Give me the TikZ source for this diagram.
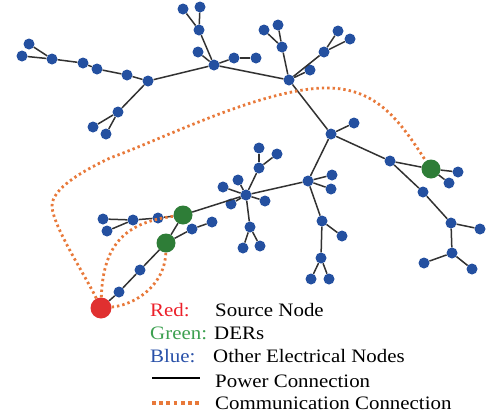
\documentclass[tikz,border=0pt]{standalone}
\usepackage{fontspec}
\usepackage{graphicx}
\setmainfont{Liberation Serif}
\definecolor{busblue}{RGB}{36,80,160}
\definecolor{dergreen}{RGB}{46,125,55}
\definecolor{srcred}{RGB}{224,48,48}
\definecolor{commorange}{RGB}{232,121,58}
\definecolor{linegray}{RGB}{50,50,50}
\definecolor{txtred}{RGB}{236,32,42}
\definecolor{txtgreen}{RGB}{60,160,80}
\definecolor{txtblue}{RGB}{40,80,168}
\newcommand\legstretch[1]{\scalebox{1.1}[1.0]{#1}}
\tikzset{
  bus/.style={circle,fill=busblue,inner sep=0pt,minimum size=11pt},
  der/.style={circle,fill=dergreen,inner sep=0pt,minimum size=19pt},
  src/.style={circle,fill=srcred,inner sep=0pt,minimum size=21pt},
  power/.style={draw=linegray,line width=1.5pt},
  comm/.style={draw=commorange,line width=2.8pt,dash pattern=on 2.4pt off 3pt},
  commkey/.style={draw=commorange,line width=3.5pt,dash pattern=on 3.8pt off 3.4pt},
  legtext/.style={anchor=base west,inner sep=0pt,font=\fontsize{19}{23}\selectfont}
}
\begin{document}
\begin{tikzpicture}[x=1pt,y=-1pt]
\useasboundingbox (0,0) rectangle (488,418);

% upper-left feeder
\node[bus] (a1) at (29,44) {};
\node[bus] (a2) at (22,56) {};
\node[bus] (a3) at (52,59) {};
\node[bus] (a4) at (83,63) {};
\node[bus] (a5) at (97,69) {};
\node[bus] (a6) at (127,75) {};
\node[bus] (g1) at (148,81) {};
\node[bus] (a7) at (118,112) {};
\node[bus] (a8) at (93,127) {};
\node[bus] (a9) at (106,134) {};
% top hubs
\node[bus] (k) at (214,65) {};
\node[bus] (b1) at (198,52) {};
\node[bus] (b2) at (199,30) {};
\node[bus] (b3) at (183,9) {};
\node[bus] (b4) at (200,7) {};
\node[bus] (b5) at (234,58) {};
\node[bus] (b6) at (256,58) {};
\node[bus] (r) at (289,80) {};
\node[bus] (c1) at (282,47) {};
\node[bus] (c2) at (264,30) {};
\node[bus] (c3) at (278,25) {};
\node[bus] (c4) at (310,70) {};
\node[bus] (c5) at (324,52) {};
\node[bus] (c6) at (338,31) {};
\node[bus] (c7) at (350,39) {};
% right feeder
\node[bus] (z) at (331,134) {};
\node[bus] (d1) at (354,123) {};
\node[bus] (d2) at (390,161) {};
\node[der] (dg3) at (431,169) {};
\node[bus] (d3) at (458,172) {};
\node[bus] (d4) at (449,183) {};
\node[bus] (d5) at (423,192) {};
\node[bus] (d6) at (451,223) {};
\node[bus] (d7) at (480,229) {};
\node[bus] (d8) at (452,253) {};
\node[bus] (d9) at (424,263) {};
\node[bus] (d10) at (472,269) {};
% middle feeder
\node[bus] (h5) at (308,181) {};
\node[bus] (e1) at (332,175) {};
\node[bus] (e2) at (331,189) {};
\node[bus] (e3) at (322,221) {};
\node[bus] (e4) at (342,236) {};
\node[bus] (e5) at (321,258) {};
\node[bus] (e6) at (311,279) {};
\node[bus] (e7) at (329,279) {};
\node[bus] (h6) at (246,195) {};
\node[bus] (f1) at (223,187) {};
\node[bus] (f2) at (238,180) {};
\node[bus] (f3) at (231,204) {};
\node[bus] (f4) at (265,201) {};
\node[bus] (f5) at (259,168) {};
\node[bus] (f6) at (259,148) {};
\node[bus] (f7) at (277,154) {};
\node[bus] (f8) at (250,227) {};
\node[bus] (f9) at (260,246) {};
\node[bus] (f10) at (243,248) {};
% lower-left feeder with DERs and source
\node[der] (dg1) at (183,215) {};
\node[der] (dg2) at (166,243) {};
\node[bus] (l1) at (158,218) {};
\node[bus] (l2) at (133,220) {};
\node[bus] (l3) at (103,219) {};
\node[bus] (l4) at (107,231) {};
\node[bus] (l5) at (192,229) {};
\node[bus] (l6) at (212,222) {};
\node[bus] (l7) at (140,270) {};
\node[bus] (l8) at (119,292) {};
\node[src] (red) at (101,308) {};

% power connections
\foreach \u/\v in {a1/a3,a2/a3,a3/a4,a4/a5,a5/a6,a6/g1,g1/a7,a7/a8,a7/a9,
  g1/k,k/b1,k/b2,b2/b3,b2/b4,k/b5,b5/b6,k/r,r/c1,c1/c2,c1/c3,r/c4,r/c5,c5/c6,c5/c7,
  r/z,z/d1,z/d2,d2/dg3,dg3/d3,dg3/d4,d2/d5,d5/d6,d6/d7,d6/d8,d8/d9,d8/d10,
  z/h5,h5/e1,h5/e2,h5/e3,e3/e4,e3/e5,e5/e6,e5/e7,h5/h6,
  h6/f1,h6/f2,h6/f3,h6/f4,h6/f5,f5/f6,f5/f7,h6/f8,f8/f9,f8/f10,
  h6/dg1,dg1/l1,l1/l2,l2/l3,l2/l4,dg1/dg2,dg2/l5,l5/l6,dg2/l7,l7/l8,l8/red}
  \draw[power] (\u) -- (\v);

% communication connections
\coordinate (w1) at (52,207);
\coordinate (w2) at (110,158);
\coordinate (w3) at (321,88);
\draw[comm] (red) .. controls (85,275) and (54,228) .. (w1)
  .. controls (51,188) and (85,170) .. (w2)
  .. controls (165,138) and (255,92) .. (w3)
  .. controls (375,86) and (398,118) .. (dg3);
\draw[comm] (red) .. controls (103,240) and (130,222) .. (dg1);
\draw[comm] (red) .. controls (135,305) and (165,285) .. (dg2);

% legend
\node[legtext,text=txtred] (kr) at (150,316) {\legstretch{Red:}};
\node[legtext] (tr) at (215,316) {\legstretch{Source Node}};
\node[legtext,text=txtgreen] (kg) at (150,339) {\legstretch{Green:}};
\node[legtext] (tg) at (214,339) {\legstretch{DERs}};
\node[legtext,text=txtblue] (kb) at (150,362) {\legstretch{Blue:}};
\node[legtext] (tb) at (213,362) {\legstretch{Other Electrical Nodes}};
\coordinate (p1) at (152,378);
\coordinate (p2) at (200,378);
\draw[draw=black,line width=2pt] (p1) -- (p2);
\node[legtext] (tp) at (215,387) {\legstretch{Power Connection}};
\coordinate (q1) at (152,403);
\coordinate (q2) at (200,403);
\draw[commkey] (q1) -- (q2);
\node[legtext] (tq) at (215,409) {\legstretch{Communication Connection}};
\end{tikzpicture}
\end{document}
